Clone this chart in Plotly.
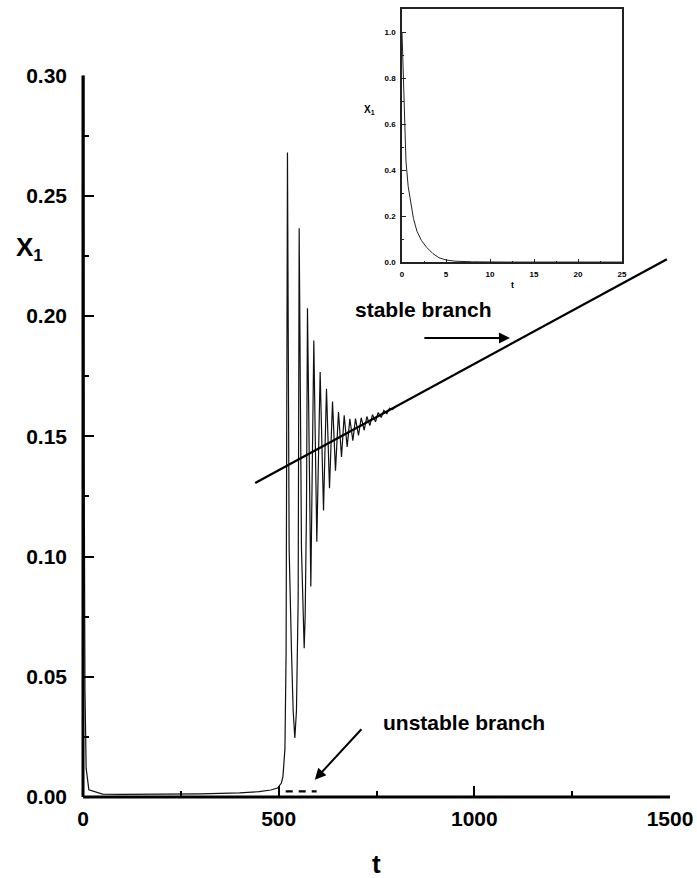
import plotly.graph_objects as go

# ---------------- data ----------------
main_t = [0, 0.5, 1, 2, 3, 5, 8, 15, 50, 100, 200, 300, 400, 450, 480, 497, 507, 511, 516, 519,
          522.5, 526.8, 532.7, 537.0, 541.3, 545.5, 549.8, 552.4, 558.3, 562.6, 565.2, 567.7, 571.1, 573.6, 582.2, 589.8, 597.5, 606.0, 614.6, 622.2,
          629.9, 637.6, 645.2, 652.9, 660.6, 667.4, 675.1, 681.9, 689.6, 696.4, 704.0, 710.9, 718.5, 725.4, 733.0, 739.8, 747.5, 754.3, 762.0, 768.8,
          776.5, 783.3, 791.0, 797.8]
main_x1 = [1.0, 0.62, 0.42, 0.24, 0.14, 0.045, 0.012, 0.003, 0.0012, 0.0011, 0.0011, 0.0013, 0.0017, 0.0022, 0.0029, 0.0037, 0.0058, 0.0086, 0.020, 0.060,
           0.268, 0.103, 0.061, 0.036, 0.0245, 0.036, 0.082, 0.2365, 0.103, 0.075, 0.0619, 0.075, 0.120, 0.2032, 0.0875, 0.1898, 0.1061, 0.1767, 0.1191, 0.1697,
           0.1284, 0.1644, 0.1357, 0.1601, 0.1414, 0.1587, 0.1456, 0.1572, 0.1482, 0.1573, 0.1504, 0.1577, 0.1525, 0.1582, 0.1544, 0.1590, 0.1560, 0.1599, 0.1578, 0.1608,
           0.1594, 0.1616, 0.1611, 0.1622]

stable_t = [440, 1492]
stable_x1 = [0.1306, 0.2236]

unstable_t = [518, 597]
unstable_x1 = [0.0023, 0.0023]

inset_t = [0, 0.1, 0.25, 0.45, 0.7, 1.0, 1.3, 1.7, 2.2, 2.8, 3.5, 4.2, 5.0, 6, 8, 12, 25]
inset_x1 = [1.0, 0.85, 0.63, 0.44, 0.33, 0.25, 0.19, 0.135, 0.095, 0.065, 0.038, 0.02, 0.01, 0.005, 0.002, 0.001, 0.001]

main_xticks = [0, 500, 1000, 1500]
main_yticks = [0.00, 0.05, 0.10, 0.15, 0.20, 0.25, 0.30]
inset_xticks = [0, 5, 10, 15, 20, 25]
inset_yticks = [0.0, 0.2, 0.4, 0.6, 0.8, 1.0]

# ---------------- figure ----------------
FONT = "Liberation Sans, Arial, Helvetica, sans-serif"
W, H = 697, 878
ML, MR, MT, MB = 83, 27, 9, 81
PW, PH = W - ML - MR, H - MT - MB


def px_x(px):
    return (px - ML) / PW


def px_y(py):
    return (H - MB - py) / PH


fig = go.Figure()

fig.add_trace(go.Scatter(x=main_t, y=main_x1, mode="lines",
                         line=dict(color="#111", width=1.2), xaxis="x", yaxis="y",
                         showlegend=False, hoverinfo="skip"))
fig.add_trace(go.Scatter(x=stable_t, y=stable_x1, mode="lines",
                         line=dict(color="#000", width=2.3), xaxis="x", yaxis="y",
                         showlegend=False, hoverinfo="skip"))
fig.add_trace(go.Scatter(x=unstable_t, y=unstable_x1, mode="lines",
                         line=dict(color="#000", width=2.2, dash="7px,6px"), xaxis="x", yaxis="y",
                         showlegend=False, hoverinfo="skip"))
fig.add_trace(go.Scatter(x=inset_t, y=inset_x1, mode="lines",
                         line=dict(color="#222", width=1), xaxis="x2", yaxis="y2",
                         showlegend=False, hoverinfo="skip"))

main_top = px_y(75.5)

tickfont_main = dict(family=FONT, size=21, color="#000", weight="bold")
tickfont_inset = dict(family=FONT, size=8, color="#000", weight="bold")

fig.update_layout(
    template="none",
    width=W, height=H,
    margin=dict(l=ML, r=MR, t=MT, b=MB, pad=0, autoexpand=False),
    paper_bgcolor="white", plot_bgcolor="rgba(0,0,0,0)",
    xaxis=dict(domain=[0, 1], range=[0, 1500], anchor="y", automargin=False,
               showgrid=False, zeroline=False, showline=False,
               ticks="inside", ticklen=11, tickwidth=2, tickcolor="#000",
               tickvals=main_xticks, ticktext=[str(v) for v in main_xticks],
               tickfont=tickfont_main, ticklabelstandoff=7,
               minor=dict(ticks="inside", ticklen=6, tickwidth=2, tickcolor="#000", dtick=250, showgrid=False)),
    yaxis=dict(domain=[0, main_top], range=[0, 0.30], anchor="x", automargin=False,
               showgrid=False, zeroline=False, showline=False,
               ticks="inside", ticklen=11, tickwidth=2, tickcolor="#000",
               tickvals=main_yticks, ticktext=["%.2f" % v for v in main_yticks],
               tickfont=tickfont_main, ticklabelstandoff=15,
               minor=dict(ticks="inside", ticklen=6, tickwidth=2, tickcolor="#000", dtick=0.025, showgrid=False)),
    xaxis2=dict(domain=[px_x(402), px_x(622)], range=[0, 25], anchor="y2", automargin=False,
                showgrid=False, zeroline=False,
                showline=True, mirror=True, linecolor="#222", linewidth=1.5,
                ticks="inside", ticklen=4, tickwidth=1, tickcolor="#222",
                tickvals=inset_xticks, ticktext=[str(v) for v in inset_xticks],
                tickfont=tickfont_inset, ticklabelstandoff=3,
                minor=dict(ticks="inside", ticklen=2, tickwidth=1, tickcolor="#222", dtick=2.5, showgrid=False)),
    yaxis2=dict(domain=[px_y(262.3), 1.0], range=[0, 1.1], anchor="x2", automargin=False,
                showgrid=False, zeroline=False,
                showline=True, mirror=True, linecolor="#222", linewidth=1.5,
                ticks="inside", ticklen=4, tickwidth=1, tickcolor="#222",
                tickvals=inset_yticks, ticktext=["%.1f" % v for v in inset_yticks],
                tickfont=tickfont_inset, ticklabelstandoff=3,
                minor=dict(ticks="inside", ticklen=2, tickwidth=1, tickcolor="#222", dtick=0.1, showgrid=False)),
    shapes=[
        dict(type="line", xref="paper", yref="paper", x0=0, x1=1, y0=0, y1=0,
             line=dict(color="#000", width=3), layer="above"),
        dict(type="line", xref="paper", yref="paper", x0=0, x1=0, y0=0, y1=main_top,
             line=dict(color="#000", width=3), layer="above"),
    ],
)

annotations = [
    dict(text="X<sub><span style='font-size:17px'>1</span></sub>", xref="paper", yref="paper",
         x=px_x(14), y=px_y(248), xanchor="left", yanchor="middle", showarrow=False,
         font=dict(family=FONT, size=26, color="#000", weight="bold")),
    dict(text="t", xref="paper", yref="paper", x=px_x(377), y=px_y(864),
         xanchor="center", yanchor="middle", showarrow=False,
         font=dict(family=FONT, size=26, color="#000", weight="bold")),
    dict(text="X<sub>1</sub>", xref="paper", yref="paper", x=px_x(369), y=px_y(110),
         xanchor="center", yanchor="middle", showarrow=False,
         font=dict(family=FONT, size=10, color="#000", weight="bold")),
    dict(text="t", xref="paper", yref="paper", x=px_x(512), y=px_y(285),
         xanchor="center", yanchor="middle", showarrow=False,
         font=dict(family=FONT, size=9, color="#000", weight="bold")),
    dict(text="stable branch", xref="x", yref="y", x=689.5, y=0.2025,
         xanchor="left", yanchor="middle", showarrow=False,
         font=dict(family=FONT, size=21, color="#000", weight="bold")),
    dict(text="unstable branch", xref="x", yref="y", x=761, y=0.0309,
         xanchor="left", yanchor="middle", showarrow=False,
         font=dict(family=FONT, size=21, color="#000", weight="bold")),
    dict(text="", xref="x", yref="y", x=1091, y=0.1909, axref="x", ayref="y", ax=868.5, ay=0.1909,
         showarrow=True, arrowhead=2, arrowsize=1.1, arrowwidth=2, arrowcolor="#000"),
    dict(text="", xref="x", yref="y", x=592.4, y=0.0072, axref="x", ayref="y", ax=715, ay=0.0288,
         showarrow=True, arrowhead=2, arrowsize=1.1, arrowwidth=2, arrowcolor="#000"),
]
fig.update_layout(annotations=annotations)

fig.write_html("out.html")
